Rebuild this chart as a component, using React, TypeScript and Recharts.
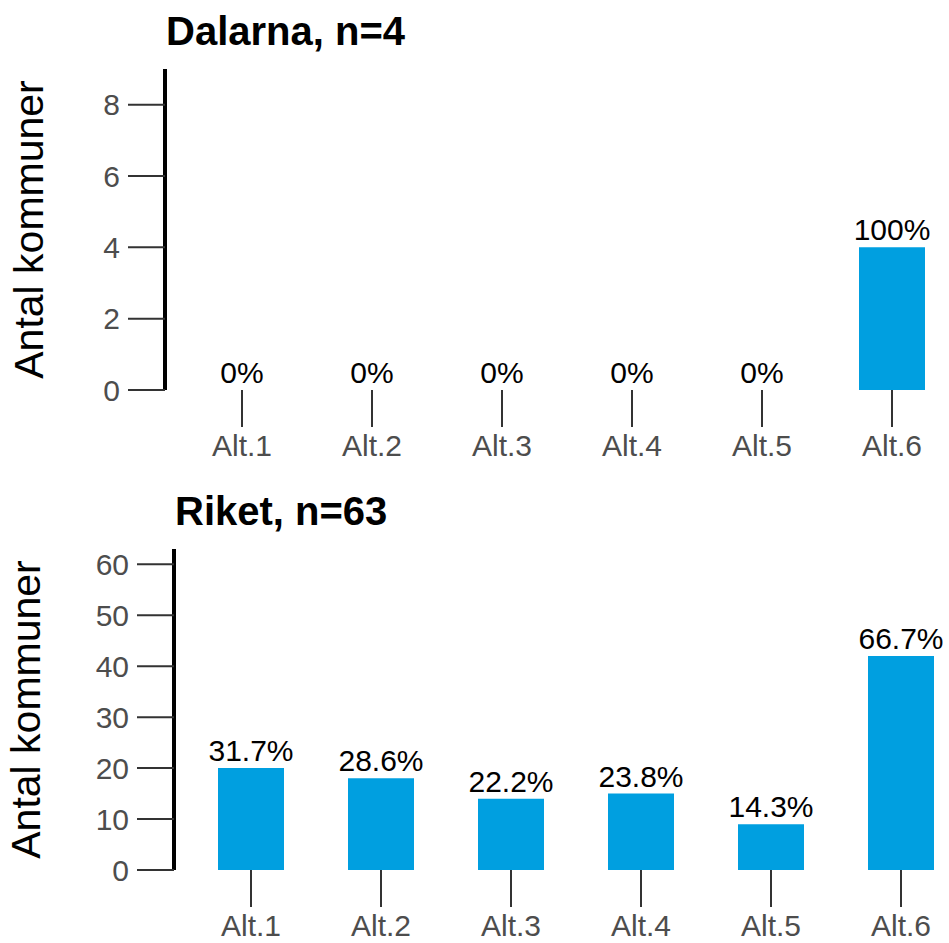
import { BarChart, Bar, XAxis, YAxis, LabelList, Label } from 'recharts';

const CATEGORIES = ['Alt.1', 'Alt.2', 'Alt.3', 'Alt.4', 'Alt.5', 'Alt.6'];

const DALARNA_COUNTS = [0, 0, 0, 0, 0, 4];
const DALARNA_PCT = [0, 0, 0, 0, 0, 100];
const DALARNA_TICKS = [0, 2, 4, 6, 8];

const RIKET_COUNTS = [20, 18, 14, 15, 9, 42];
const RIKET_PCT = [31.7, 28.6, 22.2, 23.8, 14.3, 66.7];
const RIKET_TICKS = [0, 10, 20, 30, 40, 50, 60];

const FONT = "'Liberation Sans', Arial, sans-serif";
const BAR_COLOR = '#009FE0';
const TICK_COLOR = '#4d4d4d';

type PanelProps = {
    title: string;
    counts: number[];
    pcts: number[];
    ticks: number[];
    yMax: number;
    axisX: number;   // x of the y axis line
    labelX: number;  // baseline of the rotated y title
    top: number;
};

const Panel = ({ title, counts, pcts, ticks, yMax, axisX, labelX, top }: PanelProps) => {
    const data = CATEGORIES.map((cat, i) => ({ cat, count: counts[i], label: `${pcts[i]}%` }));

    return (
        <div style={{ position: 'absolute', left: 0, top, width: 1000, height: 480 }}>
            <div style={{
                position: 'absolute', left: axisX + 1, top: 11, fontFamily: FONT,
                fontWeight: 'bold', fontSize: 40, lineHeight: '40px', color: '#000', whiteSpace: 'nowrap'
            }}>
                {title}
            </div>
            <BarChart width={axisX + 792} height={480} data={data}
                margin={{ top: 69, right: 0, bottom: 0, left: 0 }}>
                <XAxis dataKey="cat" axisLine={false} interval={0} height={90}
                    padding={{ left: 12, right: 0 }}
                    tickSize={37} tickMargin={8}
                    tickLine={{ stroke: '#333', strokeWidth: 2 }}
                    tick={{ fill: TICK_COLOR, fontSize: 30, fontFamily: FONT }} />
                <YAxis type="number" domain={[0, yMax]} ticks={ticks} interval={0} width={axisX}
                    allowDataOverflow
                    tickSize={37} tickMargin={8}
                    axisLine={{ stroke: '#000', strokeWidth: 4 }}
                    tickLine={{ stroke: '#333', strokeWidth: 2 }}
                    tick={{ fill: TICK_COLOR, fontSize: 30, fontFamily: FONT }}>
                    <Label content={(props: any) => {
                        const vb = props.viewBox || { x: 0, y: 69, width: axisX, height: 321 };
                        const cx = vb.x + labelX;
                        const cy = vb.y + vb.height / 2;
                        return (
                            <text x={cx} y={cy} transform={`rotate(-90, ${cx}, ${cy})`}
                                textAnchor="middle" fontSize={41} fontFamily={FONT} fill="#000">
                                Antal kommuner
                            </text>
                        );
                    }} />
                </YAxis>
                {/* tiny minPointSize keeps the zero bars (and their "0%" labels) in the list */}
                <Bar dataKey="count" fill={BAR_COLOR} barSize={66} minPointSize={0.01} isAnimationActive={false}>
                    <LabelList dataKey="label" position="top" offset={7}
                        fill="#000" fontSize={30} fontFamily={FONT} />
                </Bar>
            </BarChart>
        </div>
    );
};

export default function App() {
    return (
        <div style={{ position: 'absolute', left: 0, top: 0, width: 949, height: 943, overflow: 'hidden', background: '#fff' }}>
            <Panel title="Dalarna, n=4" counts={DALARNA_COUNTS} pcts={DALARNA_PCT}
                ticks={DALARNA_TICKS} yMax={9} axisX={165} labelX={43} top={0} />
            <Panel title="Riket, n=63" counts={RIKET_COUNTS} pcts={RIKET_PCT}
                ticks={RIKET_TICKS} yMax={63} axisX={174} labelX={40} top={480} />
        </div>
    );
}
